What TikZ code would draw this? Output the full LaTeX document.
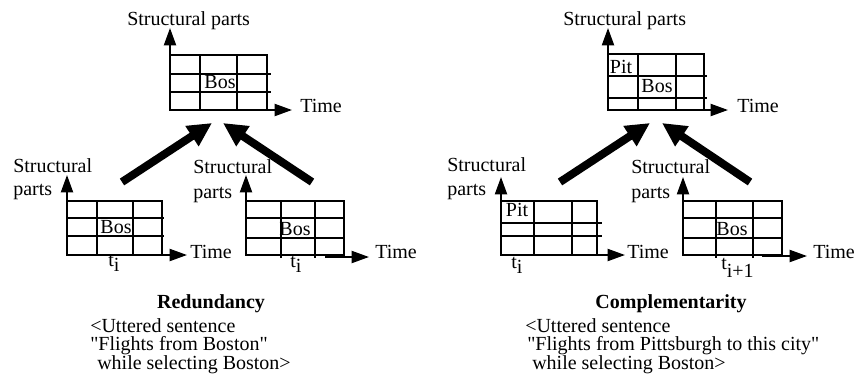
\documentclass[tikz,border=0pt]{standalone}
\usepackage{fontspec}
\setmainfont{Liberation Serif}
% same face without the TeX input mapping, so " stays a straight quote
\newfontfamily\straightq{Liberation Serif}
\newcommand{\sq}{{\straightq"}}
\usetikzlibrary{arrows.meta}
\begin{document}
\begin{tikzpicture}[x=0.75pt,y=-0.75pt,
  every node/.style={inner sep=0pt,font=\fontsize{15}{17}\selectfont},
  gridline/.style={line width=1.5pt},
  axis/.style={line width=1.5pt,-{Triangle[length=13pt,width=9pt]}},
  bigarrow/.style={line width=6pt,-{Triangle[length=18pt,width=17pt]}},
  lbl/.style={anchor=base west},
  cell/.style={anchor=center},
  sub/.style={anchor=base west},
  caption/.style={anchor=base,font=\fontsize{15}{17}\selectfont\bfseries},
  note/.style={anchor=base west}]
\useasboundingbox (0,0) rectangle (856,386);

% ---------- Redundancy: fused frame ----------
\draw[gridline] (170,55) rectangle (267,110);
\draw[gridline] (170,74) -- (271,74) (170,92) -- (271,92);
\draw[gridline] (200,55) -- (200,110) (237,55) -- (237,110);
\draw[axis] (170,110) -- (170,28);
\draw[axis] (170,110) -- (292,110);
\node[lbl] (rsp) at (127,25) {Structural parts};
\node[lbl] (rtime) at (300,112) {Time};
\node[cell] (rbos) at (220,82) {Bos};

% ---------- Redundancy: first input ----------
\draw[gridline] (67,201) rectangle (162,255);
\draw[gridline] (67,218) -- (164,218) (67,236) -- (164,236);
\draw[gridline] (97,201) -- (97,255) (133,201) -- (133,255);
\draw[axis] (67,255) -- (67,175);
\draw[axis] (67,255) -- (187,255);
\node[lbl] (ra1) at (13,172) {Structural};
\node[lbl] (ra2) at (13,195) {parts};
\node[lbl] (ratime) at (190,258) {Time};
\node[cell] (rabos) at (116,227) {Bos};
\node[sub] (rat) at (108,266) {t\raisebox{-4pt}{i}};

% ---------- Redundancy: second input ----------
\draw[gridline] (246,201) rectangle (344,255);
\draw[gridline] (246,218) -- (344,218) (246,238) -- (344,238);
\draw[gridline] (281,201) -- (281,258) (315,201) -- (315,258);
\draw[axis] (246,255) -- (246,175);
\draw[axis] (325,257) -- (369,257);
\node[lbl] (rb1) at (193,173) {Structural};
\node[lbl] (rb2) at (193,198) {parts};
\node[lbl] (rbtime) at (375,258) {Time};
\node[cell] (rbbos) at (295,229) {Bos};
\node[sub] (rbt) at (290,267) {t\raisebox{-4pt}{i}};

% ---------- Redundancy: merging arrows ----------
\coordinate (ra-tail) at (122,182);
\coordinate (ra-tip) at (212,123);
\coordinate (rb-tail) at (312,182);
\coordinate (rb-tip) at (223,123);
\draw[bigarrow] (ra-tail) -- (ra-tip);
\draw[bigarrow] (rb-tail) -- (rb-tip);

% ---------- Complementarity: fused frame ----------
\draw[gridline] (608,54) rectangle (704,110);
\draw[gridline] (608,76) -- (707,76) (608,98) -- (707,98);
\draw[gridline] (638,54) -- (638,110) (676,54) -- (676,110);
\draw[axis] (608,110) -- (608,28);
\draw[axis] (608,110) -- (728,110);
\node[lbl] (csp) at (563,25) {Structural parts};
\node[lbl] (ctime) at (737,112) {Time};
\node[cell] (cpit) at (621,67) {Pit};
\node[cell] (cbos) at (657,86) {Bos};

% ---------- Complementarity: first input ----------
\draw[gridline] (501,201) rectangle (597,255);
\draw[gridline] (501,223) -- (602,223) (501,236) -- (602,236);
\draw[gridline] (534,201) -- (534,255) (572,201) -- (572,255);
\draw[axis] (501,255) -- (501,177);
\draw[axis] (501,255) -- (625,255);
\node[lbl] (ca1) at (447,171) {Structural};
\node[lbl] (ca2) at (447,195) {parts};
\node[lbl] (catime) at (627,258) {Time};
\node[cell] (capit) at (517,210) {Pit};
\node[sub] (cat) at (511,268) {t\raisebox{-4pt}{i}};

% ---------- Complementarity: second input ----------
\draw[gridline] (683,201) rectangle (782,255);
\draw[gridline] (683,218) -- (782,218) (683,238) -- (782,238);
\draw[gridline] (716,201) -- (716,258) (753,201) -- (753,258);
\draw[axis] (683,255) -- (683,177);
\draw[axis] (762,256) -- (807,256);
\node[lbl] (cb1) at (631,173) {Structural};
\node[lbl] (cb2) at (631,198) {parts};
\node[lbl] (cbtime) at (813,258) {Time};
\node[cell] (cbbos) at (732,229) {Bos};
\node[sub] (cbt) at (721,269) {t\raisebox{-6pt}{i+1}};

% ---------- Complementarity: merging arrows ----------
\coordinate (ca-tail) at (560,182);
\coordinate (ca-tip) at (650,123);
\coordinate (cb-tail) at (750,182);
\coordinate (cb-tip) at (662,123);
\draw[bigarrow] (ca-tail) -- (ca-tip);
\draw[bigarrow] (cb-tail) -- (cb-tip);

% ---------- Captions ----------
\node[caption] (redcap) at (211,308) {Redundancy};
\node[note] (red1) at (90,332) {<Uttered sentence};
\node[note] (red2) at (90,350) {\sq Flights from Boston\sq};
\node[note] (red3) at (97,369) {while selecting Boston>};

\node[caption] (comcap) at (671,308) {Complementarity};
\node[note] (com1) at (525,332) {<Uttered sentence};
\node[note] (com2) at (527,350) {\sq Flights from Pittsburgh to this city\sq};
\node[note] (com3) at (532,369) {while selecting Boston>};
\end{tikzpicture}
\end{document}
